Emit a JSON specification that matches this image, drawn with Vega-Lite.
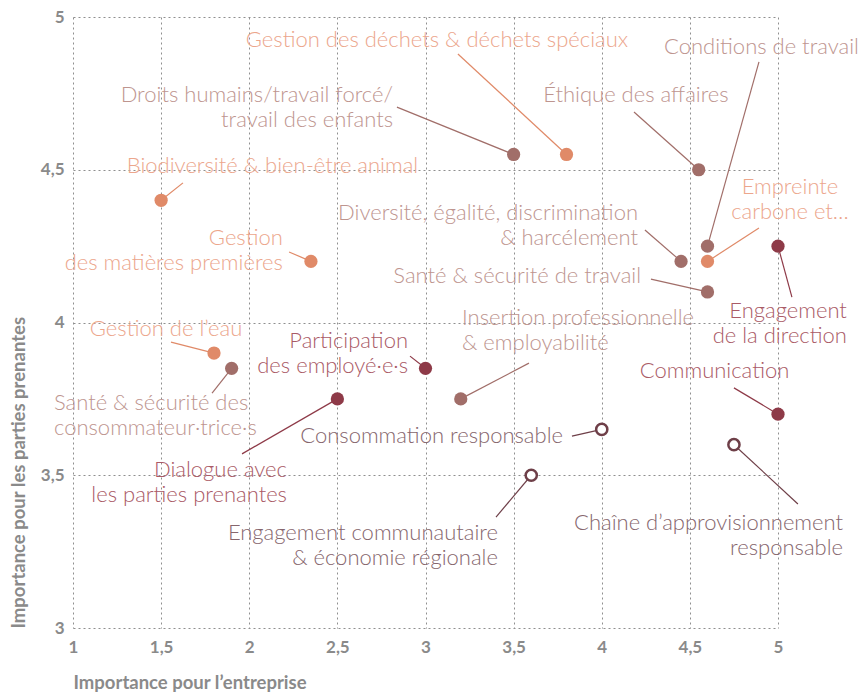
{
  "$schema": "https://vega.github.io/schema/vega-lite/v6.json",
  "autosize": "none",
  "padding": {"left": 73, "top": 17, "right": 82, "bottom": 65},
  "width": 705,
  "height": 611,
  "background": "white",
  "config": {"view": {"stroke": null}, "font": "Lato"},
  "data": {"values": [
    {"topic": "Gestion des déchets & déchets spéciaux", "label": "Gestion des déchets & déchets spéciaux", "group": "Environnement", "x": 3.8, "y": 4.55, "tx": 3.065, "ty": 4.925, "lx": 3.184, "ly": 4.879},
    {"topic": "Droits humains/travail forcé/travail des enfants", "label": "Droits humains/travail forcé/\ntravail des enfants", "group": "Social", "x": 3.5, "y": 4.55, "tx": 2.816, "ty": 4.745, "lx": 2.838, "ly": 4.705},
    {"topic": "Éthique des affaires", "label": "Éthique des affaires", "group": "Social", "x": 4.55, "y": 4.5, "tx": 4.194, "ty": 4.745, "lx": 4.183, "ly": 4.689},
    {"topic": "Conditions de travail", "label": "Conditions de travail", "group": "Social", "x": 4.6, "y": 4.25, "tx": 4.906, "ty": 4.902, "lx": 4.892, "ly": 4.853},
    {"topic": "Empreinte carbone et…", "label": "Empreinte\ncarbone et…", "group": "Environnement", "x": 4.6, "y": 4.2, "tx": 5.068, "ty": 4.442, "lx": 4.892, "ly": 4.309},
    {"topic": "Biodiversité & bien-être animal", "label": "Biodiversité & bien-être animal", "group": "Environnement", "x": 1.5, "y": 4.4, "tx": 2.132, "ty": 4.512, "lx": 1.624, "ly": 4.457},
    {"topic": "Gestion des matières premières", "label": "Gestion\ndes matières premières", "group": "Environnement", "x": 2.35, "y": 4.2, "tx": 2.191, "ty": 4.278, "lx": 2.226, "ly": 4.231},
    {"topic": "Diversité, égalité, discrimination & harcélement", "label": "Diversité, égalité, discrimination\n& harcélement", "group": "Social", "x": 4.45, "y": 4.2, "tx": 4.206, "ty": 4.36, "lx": 4.245, "ly": 4.303},
    {"topic": "Santé & sécurité de travail", "label": "Santé & sécurité de travail", "group": "Social", "x": 4.6, "y": 4.1, "tx": 4.223, "ty": 4.152, "lx": 4.279, "ly": 4.142},
    {"topic": "Engagement de la direction", "label": "Engagement\nde la direction", "group": "Gouvernance", "x": 5, "y": 4.25, "tx": 5.391, "ty": 4.039, "lx": 5.079, "ly": 4.083},
    {"topic": "Gestion de l’eau", "label": "Gestion de l’eau", "group": "Environnement", "x": 1.8, "y": 3.9, "tx": 1.528, "ty": 3.979, "lx": 1.556, "ly": 3.936},
    {"topic": "Santé & sécurité des consommateur·trice·s", "label": "Santé & sécurité des\nconsommateur·trice·s", "group": "Social", "x": 1.9, "y": 3.85, "tx": 0.892, "ty": 3.737, "lx": 1.789, "ly": 3.769},
    {"topic": "Participation des employé·e·s", "label": "Participation\ndes employé·e·s", "group": "Gouvernance", "x": 3, "y": 3.85, "tx": 2.901, "ty": 3.938, "lx": 2.912, "ly": 3.89},
    {"topic": "Insertion professionnelle & employabilité", "label": "Insertion professionnelle\n& employabilité", "group": "Social", "x": 3.2, "y": 3.75, "tx": 3.207, "ty": 4.015, "lx": 3.587, "ly": 3.867},
    {"topic": "Communication", "label": "Communication", "group": "Gouvernance", "x": 5, "y": 3.7, "tx": 4.64, "ty": 3.841, "lx": 4.75, "ly": 3.786},
    {"topic": "Dialogue avec les parties prenantes", "label": "Dialogue avec\nles parties prenantes", "group": "Gouvernance", "x": 2.5, "y": 3.75, "tx": 2.214, "ty": 3.516, "lx": 1.959, "ly": 3.57},
    {"topic": "Consommation responsable", "label": "Consommation responsable", "group": "Économie", "x": 4, "y": 3.65, "tx": 3.78, "ty": 3.628, "lx": 3.831, "ly": 3.628},
    {"topic": "Engagement communautaire & économie régionale", "label": "Engagement communautaire\n& économie régionale", "group": "Économie", "x": 3.6, "y": 3.5, "tx": 3.411, "ty": 3.311, "lx": 3.4, "ly": 3.363},
    {"topic": "Chaîne d’approvisionnement responsable", "label": "Chaîne d’approvisionnement\nresponsable", "group": "Économie", "x": 4.75, "y": 3.6, "tx": 5.369, "ty": 3.344, "lx": 5.113, "ly": 3.406}
  ]},
  "encoding": {
    "x": {"type": "quantitative", "scale": {"domain": [1, 5], "nice": false, "zero": false},
      "axis": {"title": "Importance pour l’entreprise", "values": [1, 1.5, 2, 2.5, 3, 3.5, 4, 4.5, 5],
        "labelExpr": "replace(toString(datum.value), '.', ',')", "domain": false, "ticks": false, "labelFlush": false,
        "grid": true, "gridDash": [2, 3], "gridColor": "#8f8f8f", "gridWidth": 1,
        "labelFont": "Lato", "labelFontSize": 17, "labelFontWeight": "bold", "labelColor": "#8a8a8a", "labelPadding": 11,
        "titleFont": "Lato", "titleFontSize": 18.5, "titleFontWeight": "bold", "titleColor": "#8a8a8a",
        "titleAnchor": "start", "titleAlign": "left", "titlePadding": 18}},
    "y": {"type": "quantitative", "scale": {"domain": [3, 5], "nice": false, "zero": false},
      "axis": {"title": "Importance pour les parties prenantes", "values": [3, 3.5, 4, 4.5, 5],
        "labelExpr": "replace(toString(datum.value), '.', ',')", "domain": false, "ticks": false, "labelFlush": false,
        "grid": true, "gridDash": [2, 3], "gridColor": "#8f8f8f", "gridWidth": 1,
        "labelFont": "Lato", "labelFontSize": 17, "labelFontWeight": "bold", "labelColor": "#8a8a8a", "labelPadding": 9,
        "titleFont": "Lato", "titleFontSize": 18.5, "titleFontWeight": "bold", "titleColor": "#8a8a8a",
        "titleAnchor": "start", "titlePadding": 12}}
  },
  "layer": [
    {
      "mark": {"type": "rule", "strokeWidth": 1.2, "clip": false},
      "encoding": {
        "x": {"field": "lx", "type": "quantitative"},
        "y": {"field": "ly", "type": "quantitative"},
        "x2": {"field": "x"},
        "y2": {"field": "y"},
        "stroke": {"field": "group", "type": "nominal", "legend": null,
          "scale": {"domain": ["Environnement", "Social", "Gouvernance", "Économie"], "range": ["#E08A68", "#A16E69", "#8E3A48", "#6E3F48"]}}
      }
    },
    {
      "transform": [{"filter": "datum.group !== 'Économie'"}],
      "mark": {"type": "point", "shape": "circle", "filled": true, "size": 175, "opacity": 1, "strokeWidth": 0},
      "encoding": {
        "x": {"field": "x", "type": "quantitative"},
        "y": {"field": "y", "type": "quantitative"},
        "fill": {"field": "group", "type": "nominal", "legend": null,
          "scale": {"domain": ["Environnement", "Social", "Gouvernance", "Économie"], "range": ["#E08A68", "#A16E69", "#8E3A48", "#ffffff"]}}
      }
    },
    {
      "transform": [{"filter": "datum.group === 'Économie'"}],
      "mark": {"type": "point", "shape": "circle", "filled": false, "fill": "#ffffff", "fillOpacity": 1, "stroke": "#6E3F48", "strokeWidth": 2.5, "size": 125, "opacity": 1},
      "encoding": {
        "x": {"field": "x", "type": "quantitative"},
        "y": {"field": "y", "type": "quantitative"}
      }
    },
    {
      "transform": [{"filter": {"field": "topic", "oneOf": ["Gestion des déchets & déchets spéciaux", "Éthique des affaires", "Conditions de travail", "Empreinte carbone et…", "Biodiversité & bien-être animal", "Gestion de l’eau", "Communication"]}}],
      "mark": {"type": "text", "align": "center", "baseline": "middle", "font": "Lato", "fontWeight": 300, "fontSize": 22, "lineHeight": 25, "lineBreak": "\n", "clip": false},
      "encoding": {
        "x": {"field": "tx", "type": "quantitative"},
        "y": {"field": "ty", "type": "quantitative"},
        "text": {"field": "label"},
        "color": {"field": "group", "type": "nominal", "legend": null,
          "scale": {"domain": ["Environnement", "Social", "Gouvernance", "Économie"], "range": ["#ECA68C", "#BE958F", "#AA5A66", "#86666D"]}}
      }
    },
    {
      "transform": [{"filter": {"field": "topic", "oneOf": ["Droits humains/travail forcé/travail des enfants", "Gestion des matières premières", "Diversité, égalité, discrimination & harcélement", "Santé & sécurité de travail", "Engagement de la direction", "Participation des employé·e·s", "Dialogue avec les parties prenantes", "Consommation responsable", "Engagement communautaire & économie régionale", "Chaîne d’approvisionnement responsable"]}}],
      "mark": {"type": "text", "align": "right", "baseline": "middle", "font": "Lato", "fontWeight": 300, "fontSize": 22, "lineHeight": 25, "lineBreak": "\n", "clip": false},
      "encoding": {
        "x": {"field": "tx", "type": "quantitative"},
        "y": {"field": "ty", "type": "quantitative"},
        "text": {"field": "label"},
        "color": {"field": "group", "type": "nominal", "legend": null}
      }
    },
    {
      "transform": [{"filter": {"field": "topic", "oneOf": ["Santé & sécurité des consommateur·trice·s", "Insertion professionnelle & employabilité"]}}],
      "mark": {"type": "text", "align": "left", "baseline": "middle", "font": "Lato", "fontWeight": 300, "fontSize": 22, "lineHeight": 25, "lineBreak": "\n", "clip": false},
      "encoding": {
        "x": {"field": "tx", "type": "quantitative"},
        "y": {"field": "ty", "type": "quantitative"},
        "text": {"field": "label"},
        "color": {"field": "group", "type": "nominal", "legend": null}
      }
    }
  ]
}
